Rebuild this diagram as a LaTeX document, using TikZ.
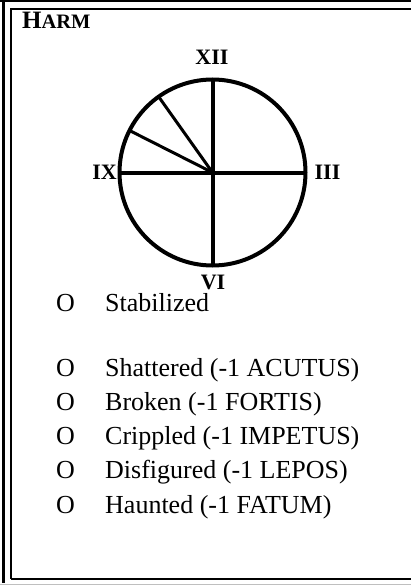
\documentclass[tikz,border=0pt]{standalone}
\usepackage{fontspec}
\setmainfont{Liberation Serif}
\begin{document}
\begin{tikzpicture}[x=1pt,y=-1pt,
  frame/.style={line width=1.6pt,black},
  spoke/.style={line width=4pt},
  thinspoke/.style={line width=3pt},
  numeral/.style={font=\fontsize{22}{22}\selectfont\bfseries,inner sep=0pt,anchor=base},
  bullet/.style={font=\fontsize{26}{26}\selectfont,inner sep=0pt,anchor=base west},
  item/.style={font=\fontsize{26}{26}\selectfont,inner sep=0pt,anchor=base west}]
\useasboundingbox (0,0) rectangle (411,586);
\clip (0,0) rectangle (411,586);
% outer frame
\draw[line width=2pt] (0,1) -- (411,1);
\draw[line width=3pt] (3.5,0) -- (3.5,583);
\draw[line width=1pt,black!25] (0,584.5) -- (411,584.5);
% inner frame
\draw[frame] (420,9) -- (11,9) -- (11,578.5) -- (420,578.5);
\draw[line width=2.4pt] (11,579) -- (420,579);
% header
\node[inner sep=0pt,anchor=base west] (title) at (22,29)
  {\bfseries\fontsize{25}{25}\selectfont H\fontsize{20.5}{20.5}\selectfont ARM};
% clock
\coordinate (c) at (212.5,172.5);
\draw[line width=4pt] (c) circle[radius=93];
\draw[spoke] (c) -- ++(0,-93);
\draw[spoke] (c) -- ++(0,93);
\draw[spoke] (c) -- ++(93,0);
\draw[spoke] (c) -- ++(-93,0);
\draw[thinspoke] (c) -- ++(-54,-76);
\draw[thinspoke] (c) -- ++(-83,-42);
\node[numeral] (xii) at (212,65) {XII};
\node[numeral] (ix) at (104.5,179) {IX};
\node[numeral] (iii) at (327.5,179) {III};
\node[numeral] (vi) at (213,289) {VI};
% list
\foreach \n/\y/\t in {a/311/Stabilized,b/376/Shattered (-1 ACUTUS),c/410/Broken (-1 FORTIS),d/444/Crippled (-1 IMPETUS),e/478/Disfigured (-1 LEPOS),f/513/Haunted (-1 FATUM)}{
  \node[bullet] (o\n) at (56,\y) {O};
  \node[item] (t\n) at (105,\y) {\t};
}
\end{tikzpicture}
\end{document}
